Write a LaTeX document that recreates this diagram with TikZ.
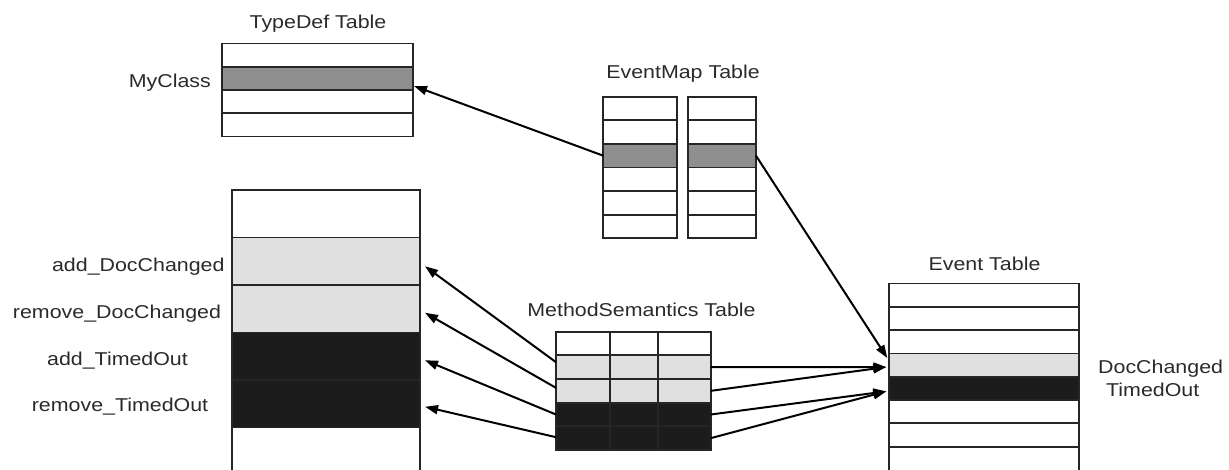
\documentclass[tikz,border=0pt]{standalone}
\usepackage{fontspec}
\setmainfont{Liberation Sans}[FakeStretch=1.15]
\usetikzlibrary{arrows.meta,calc}
\definecolor{rulecol}{HTML}{262626}
\definecolor{midfill}{HTML}{8E8E8E}
\definecolor{lightfill}{HTML}{E0E0E0}
\definecolor{darkfill}{HTML}{1C1C1C}
\definecolor{txtcol}{HTML}{2A2A2A}
\begin{document}
\begin{tikzpicture}[x=1pt,y=-1pt,
  cell/.style={draw=rulecol, line width=1.8pt, inner sep=0pt, outer sep=0pt},
  tdrow/.style={cell, minimum width=191pt, minimum height=23.25pt},
  emArow/.style={cell, minimum width=73.4pt, minimum height=23.6pt},
  emBrow/.style={cell, minimum width=68.3pt, minimum height=23.6pt},
  btrow/.style={cell, minimum width=187.7pt, minimum height=47.5pt},
  msrow/.style={cell, minimum height=23.66pt},
  evrow/.style={cell, minimum width=190pt, minimum height=23.3pt},
  lbl/.style={font=\fontsize{18.6}{20}\selectfont, text=txtcol, inner sep=0pt},
  conn/.style={draw=black, line width=2pt, -{Triangle[length=13pt,width=9pt]}}]
\useasboundingbox (0,0) rectangle (1229,469);
\clip (0,0) rectangle (1229,469);

% TypeDef table
\foreach \i/\f in {1/white,2/midfill,3/white,4/white}
  \node[tdrow, fill=\f] (td\i) at (317.5,{43.5+23.25*(\i-0.5)}) {};
\node[lbl, anchor=base] (ttd) at (318,28.5) {TypeDef Table};
\node[lbl, anchor=base east] (lmy) at (211,87) {MyClass};

% EventMap table (two columns)
\foreach \i/\f in {1/white,2/white,3/midfill,4/white,5/white,6/white} {
  \node[emArow, fill=\f] (ema\i) at (640,{96.7+23.6*(\i-0.5)}) {};
  \node[emBrow, fill=\f] (emb\i) at (721.85,{96.7+23.6*(\i-0.5)}) {};
}
\node[lbl, anchor=base] (tem) at (683,78) {EventMap Table};

% MethodDef table
\foreach \i/\f in {1/white,2/lightfill,3/lightfill,4/darkfill,5/darkfill,6/white}
  \node[btrow, fill=\f] (bt\i) at (326.15,{190+47.5*(\i-0.5)}) {};
\node[lbl, anchor=base] (l1) at (138.3,271.7) {add\_DocChanged};
\node[lbl, anchor=base] (l2) at (117,318.3) {remove\_DocChanged};
\node[lbl, anchor=base] (l3) at (117.5,365) {add\_TimedOut};
\node[lbl, anchor=base] (l4) at (120,411.7) {remove\_TimedOut};

% MethodSemantics table (three columns)
\foreach \i/\f in {1/white,2/lightfill,3/lightfill,4/darkfill,5/darkfill} {
  \node[msrow, minimum width=54pt, fill=\f] (ms\i-1) at (583,{331.7+23.66*(\i-0.5)}) {};
  \node[msrow, minimum width=47.7pt, fill=\f] (ms\i-2) at (633.85,{331.7+23.66*(\i-0.5)}) {};
  \node[msrow, minimum width=53pt, fill=\f] (ms\i-3) at (684.2,{331.7+23.66*(\i-0.5)}) {};
}
\node[lbl, anchor=base] (tms) at (641.5,316.7) {MethodSemantics Table};

% Event table
\foreach \i/\f in {1/white,2/white,3/white,4/lightfill,5/darkfill,6/white,7/white}
  \node[evrow, fill=\f] (ev\i) at (984.3,{283.5+23.3*(\i-0.5)}) {};
\node[evrow, minimum height=30pt, fill=white] (ev8) at (984.3,461.6) {};
\node[lbl, anchor=base] (tev) at (984.5,270) {Event Table};
\node[lbl, anchor=base west] (ldc) at (1098,373.3) {DocChanged};
\node[lbl, anchor=base west] (lto) at (1106,396.7) {TimedOut};

% EventMap -> TypeDef and Event
\draw[conn] (ema3.west) -- ($(td2.south east)+(1,-4)$);
\draw[conn] (emb3.east) -- ($(ev4.west)+(-2,-7)$);

% MethodSemantics -> methods
\draw[conn] ($(ms2-1.west)+(0,-5)$) -- ($(bt2.east)+(5,5)$);
\draw[conn] ($(ms3-1.west)+(0,-3)$) -- ($(bt3.east)+(5,4)$);
\draw[conn] (ms4-1.west) -- ($(bt4.east)+(5,4)$);
\draw[conn] ($(ms5-1.west)+(0,-1)$) -- ($(bt5.east)+(5,3)$);

% MethodSemantics -> events
\draw[conn] (ms2-3.east) -- ($(ev4.west)+(-3,2)$);
\draw[conn] (ms3-3.east) -- ($(ev4.west)+(-3,2)$);
\draw[conn] (ms4-3.east) -- ($(ev5.west)+(-3,3)$);
\draw[conn] (ms5-3.east) -- ($(ev5.west)+(-3,3)$);
\end{tikzpicture}
\end{document}
